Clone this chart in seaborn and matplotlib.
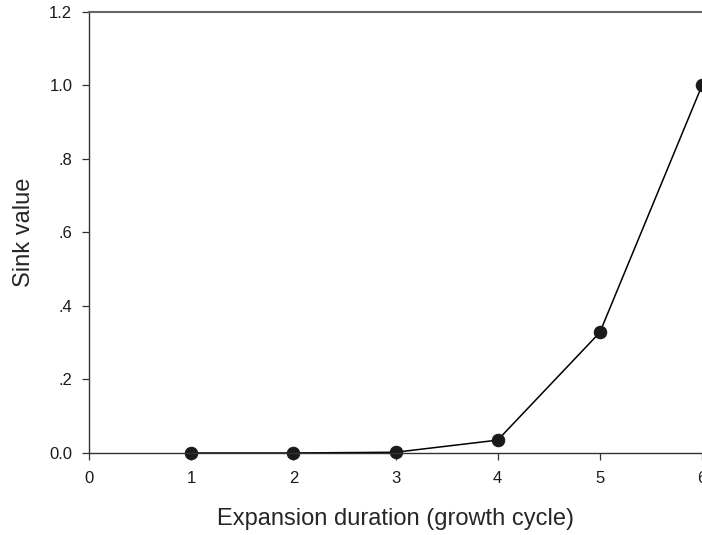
import matplotlib
matplotlib.use("Agg")
import matplotlib.pyplot as plt
import seaborn as sns
import pandas as pd

# Data
cycles = [1, 2, 3, 4, 5, 6]
sink_values = [0.0, 0.0, 0.002, 0.035, 0.328, 1.0]

x_ticks = [0, 1, 2, 3, 4, 5, 6]
y_ticks = [0.0, 0.2, 0.4, 0.6, 0.8, 1.0, 1.2]
y_tick_labels = ["0.0", ".2", ".4", ".6", ".8", "1.0", "1.2"]

df = pd.DataFrame({"cycle": cycles, "sink": sink_values})

sns.set_style("ticks")
plt.rcParams["font.family"] = ["Liberation Sans", "DejaVu Sans"]

fig = plt.figure(figsize=(7.02, 5.35), dpi=100)
ax = fig.add_axes([0.1268, 0.1533, 0.8732, 0.8243])

sns.lineplot(data=df, x="cycle", y="sink", ax=ax, color="black", linewidth=1.1,
             marker="o", markersize=9, markeredgecolor="#1a1a1a",
             markerfacecolor="#1a1a1a", clip_on=False)

ax.set_xlim(0, 6)
ax.set_ylim(0, 1.2)
ax.set_xticks(x_ticks)
ax.set_xticklabels([str(t) for t in x_ticks], fontsize=12)
ax.set_yticks(y_ticks)
ax.set_yticklabels(y_tick_labels, fontsize=12)

ax.set_xlabel("Expansion duration (growth cycle)", fontsize=17, labelpad=16)
ax.set_ylabel("Sink value", fontsize=17, labelpad=10)

for side in ["left", "bottom"]:
    ax.spines[side].set_color("#333333")
    ax.spines[side].set_linewidth(1.0)
ax.spines["top"].set_color("#666666")
ax.spines["top"].set_linewidth(1.5)
ax.spines["right"].set_visible(False)
ax.tick_params(axis="both", direction="out", length=5, width=0.9, color="#333333",
               labelcolor="#1a1a1a")
ax.tick_params(axis="x", pad=8)
ax.tick_params(axis="y", pad=7)

fig.savefig("out.png", dpi=100)
